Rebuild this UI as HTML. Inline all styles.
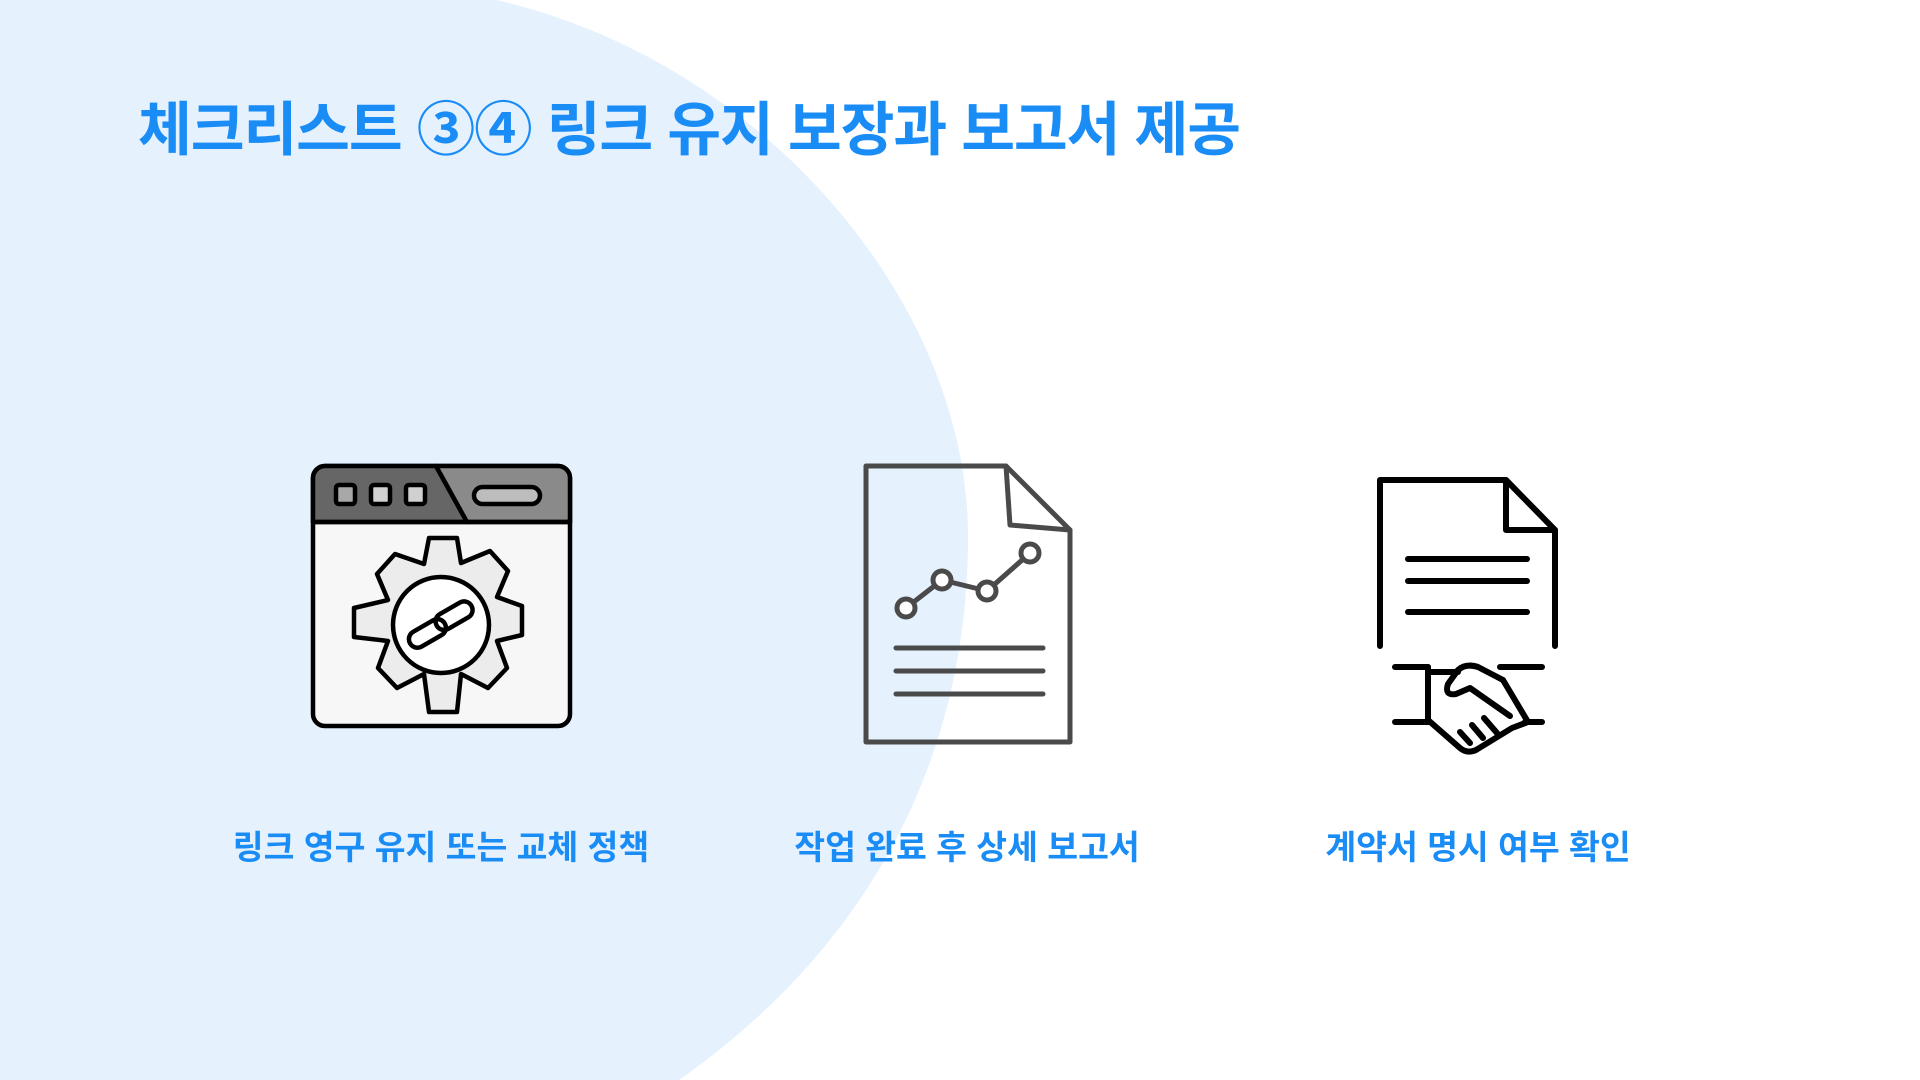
<!DOCTYPE html>
<html><head><meta charset="utf-8"><style>
html,body{margin:0;padding:0;width:1920px;height:1080px;overflow:hidden;background:#fff}
.t{position:absolute;font-family:"Liberation Sans","Noto Sans CJK KR",sans-serif;font-weight:bold;color:#1a8cf5;white-space:nowrap}
</style></head><body>
<svg width="1920" height="1080" style="position:absolute;left:0;top:0">
<path d="M0 0 L496 0 C760 60 968 300 968 537 C968 780 850 960 679 1080 L0 1080Z" fill="#e5f1fd"/>
<!-- browser icon -->
<g stroke="#000" stroke-width="4.5" stroke-linejoin="round" stroke-linecap="round">
<rect x="313" y="466" width="257" height="260" rx="12" fill="#f7f7f7"/>
<path d="M325 466 H436 L467 522 H313 V478 A12 12 0 0 1 325 466Z" fill="#666"/>
<path d="M436 466 H558 A12 12 0 0 1 570 478 V522 H467Z" fill="#8a8a8a"/>
<line x1="313" y1="522" x2="570" y2="522"/>
<rect x="336" y="485" width="19" height="19" rx="3" fill="#a8a8a8"/>
<rect x="371" y="485" width="19" height="19" rx="3" fill="#d0d0d0"/>
<rect x="406" y="485" width="19" height="19" rx="3" fill="#d0d0d0"/>
<rect x="474" y="487" width="66" height="17" rx="8.5" fill="#bdbdbd"/>
<path d="M429 538 L457 538 L461 563 L490 551 L508 571 L497 597 L522 606 L522 635 L497 641 L507 668 L488 688 L461 674 L457 712 L429 712 L424 674 L397 688 L378 668 L388 641 L354 637 L354 608 L388 600 L377 574 L395 554 L424 564Z" fill="#ececec"/>
<circle cx="441" cy="625" r="48" fill="#fff"/>
<g transform="rotate(-30 441 625)" fill="none">
<rect x="405" y="617" width="40" height="17" rx="8.5"/>
<rect x="437" y="615" width="40" height="17" rx="8.5"/>
</g>
</g>
<!-- report icon -->
<g stroke="#4a4a4a" stroke-width="5" fill="none" stroke-linecap="round" stroke-linejoin="round">
<path d="M866 466 H1006 L1070 530 V742 H866Z"/>
<path d="M1006 466 L1010 525 L1070 530"/>
<polyline points="906,608 942,580 987,591 1030,553"/>
<circle cx="906" cy="608" r="9" fill="#fff"/><circle cx="942" cy="580" r="9" fill="#fff"/><circle cx="987" cy="591" r="9" fill="#fff"/><circle cx="1030" cy="553" r="9" fill="#fff"/>
<line x1="896" y1="648" x2="1043" y2="648"/><line x1="896" y1="671" x2="1043" y2="671"/><line x1="896" y1="694" x2="1043" y2="694"/>
</g>
<!-- contract icon -->
<g stroke="#000" stroke-width="6" fill="none" stroke-linecap="round" stroke-linejoin="round">
<path d="M1380 646 V480 H1506 L1555 530 V646"/>
<path d="M1506 480 V530 H1555"/>
<line x1="1408" y1="559" x2="1527" y2="559"/><line x1="1408" y1="581" x2="1527" y2="581"/><line x1="1408" y1="612" x2="1527" y2="612"/>
<line x1="1395" y1="667" x2="1428" y2="667"/><line x1="1428" y1="667" x2="1428" y2="722"/><line x1="1395" y1="722" x2="1428" y2="722"/>
<line x1="1500" y1="667" x2="1542" y2="667"/><line x1="1525" y1="722" x2="1542" y2="722"/>
<path d="M1428 672 L1458 672"/>
<path d="M1503 680 L1478 667 Q1466 663 1458 670 L1448 684 Q1444 696 1456 694 L1470 688 L1510 716"/>
<path d="M1428 720 L1460 748 Q1467 754 1476 750 L1512 728 L1528 722 L1503 680"/>
<line x1="1460" y1="732" x2="1470" y2="743"/><line x1="1472" y1="725" x2="1483" y2="738"/><line x1="1484" y1="718" x2="1497" y2="733"/>
</g>
</svg>
<div class="t" style="left:138px;top:82px;font-size:58.5px;letter-spacing:-1.1px">체크리스트 ③④ 링크 유지 보장과 보고서 제공</div>
<div class="t" style="left:221px;top:820px;font-size:33.5px;width:440px;text-align:center">링크 영구 유지 또는 교체 정책</div>
<div class="t" style="left:747px;top:820px;font-size:33.5px;width:440px;text-align:center">작업 완료 후 상세 보고서</div>
<div class="t" style="left:1258px;top:820px;font-size:33.5px;width:440px;text-align:center">계약서 명시 여부 확인</div>
</body></html>
